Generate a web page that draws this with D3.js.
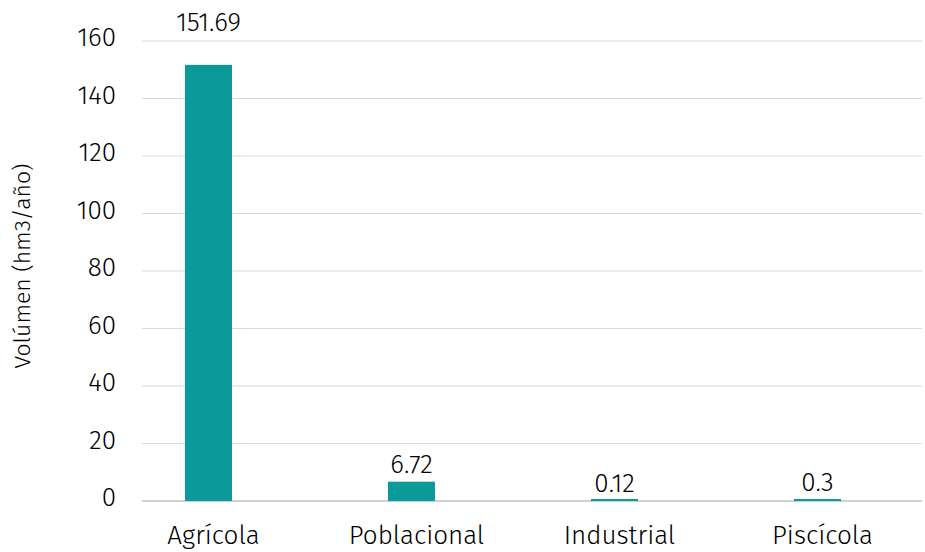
<!DOCTYPE html>
<html>
<head>
<meta charset="utf-8">
<script src="https://cdn.jsdelivr.net/npm/d3@7"></script>
<style>
  body { margin: 0; background: #fff; }
  svg { font-family: "Fira Sans", "Open Sans", "Noto Sans", sans-serif; font-weight: 300; }
</style>
</head>
<body>
<svg width="925" height="552"></svg>
<script>
const categories = ["Agrícola", "Poblacional", "Industrial", "Piscícola"];
const values = [151.69, 6.72, 0.12, 0.3];
const labels = ["151.69", "6.72", "0.12", "0.3"];
const yTicks = [0, 20, 40, 60, 80, 100, 120, 140, 160];

const svg = d3.select("svg");
const plotLeft = 142, plotRight = 922;

const x = d3.scaleBand().domain(categories).range([107, 919]);
const y = d3.scaleLinear().domain([0, 160]).range([501, 41]);
const barW = 47;

// gridlines
svg.selectAll("line.grid")
  .data(yTicks)
  .enter()
  .append("line")
  .attr("class", "grid")
  .attr("x1", plotLeft)
  .attr("x2", plotRight)
  .attr("y1", (d) => y(d))
  .attr("y2", (d) => y(d))
  .attr("stroke", (d) => d === 0 ? "#d0d0d0" : "#d9d9d9")
  .attr("stroke-width", (d) => d === 0 ? 2 : 1);

// y tick labels
svg.selectAll("text.ytick")
  .data(yTicks)
  .enter()
  .append("text")
  .attr("class", "ytick")
  .attr("x", 116)
  .attr("y", (d) => y(d) - 4)
  .attr("dy", "0.35em")
  .attr("text-anchor", "end")
  .attr("font-size", "26px")
  .attr("fill", "#000")
  .text((d) => d);

// bars
svg.selectAll("rect.bar")
  .data(values)
  .enter()
  .append("rect")
  .attr("class", "bar")
  .attr("x", (d, i) => x(categories[i]) + x.bandwidth() / 2 - barW / 2)
  .attr("width", barW)
  .attr("y", (d) => Math.min(y(d), 499))
  .attr("height", (d) => Math.max(y(0) - y(d), 2))
  .attr("fill", "#0a9a9a");

// value labels
svg.selectAll("text.val")
  .data(values)
  .enter()
  .append("text")
  .attr("class", "val")
  .attr("x", (d, i) => x(categories[i]) + x.bandwidth() / 2)
  .attr("y", (d) => d > 140 ? 31 : y(d) - 9)
  .attr("text-anchor", "middle")
  .attr("font-size", "26px")
  .attr("fill", "#000")
  .text((d, i) => labels[i]);

// category labels
svg.selectAll("text.cat")
  .data(categories)
  .enter()
  .append("text")
  .attr("class", "cat")
  .attr("x", (d) => x(d) + x.bandwidth() / 2 + 5)
  .attr("y", 544)
  .attr("text-anchor", "middle")
  .attr("font-size", "26px")
  .attr("fill", "#000")
  .text((d) => d);

// y title
svg.append("text")
  .attr("transform", "translate(30,266) rotate(-90)")
  .attr("text-anchor", "middle")
  .attr("font-size", "23px")
  .attr("fill", "#000")
  .text("Volúmen (hm3/año)");
</script>
</body>
</html>
